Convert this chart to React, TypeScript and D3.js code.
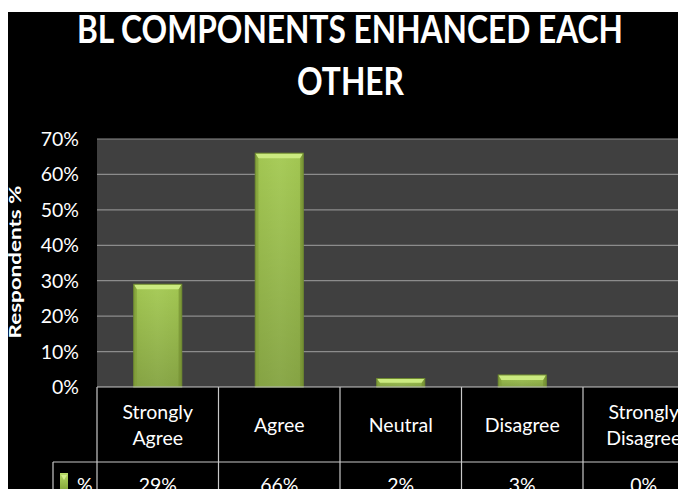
import React from "react";
import * as d3 from "d3";

const categories = ["Strongly Agree", "Agree", "Neutral", "Disagree", "Strongly Disagree"];
const categoryLines = [["Strongly", "Agree"], ["Agree"], ["Neutral"], ["Disagree"], ["Strongly", "Disagree"]];
const values = [0.29, 0.66, 0.024, 0.034, 0];
const yTicks = [0, 0.1, 0.2, 0.3, 0.4, 0.5, 0.6, 0.7];
const titleLines = ["BL COMPONENTS ENHANCED EACH", "OTHER"];
const yTitle = "Respondents %";
const seriesName = "%";

const W = 678;
const H = 489;
const FONT = "Lato, 'Open Sans', sans-serif";

export default function App() {
  const plotLeft = 97;
  const plotTop = 139;
  const plotBottom = 387;
  const colW = 121.5;
  const x = d3
    .scaleBand<string>()
    .domain(categories)
    .range([plotLeft, plotLeft + colW * categories.length])
    .paddingInner(0)
    .paddingOuter(0);
  const y = d3.scaleLinear().domain([0, 0.7]).range([plotBottom, plotTop]);
  const fmt = d3.format(".0%");
  const bw = 48;
  const rowSplit = 462;
  const tableRight = plotLeft + colW * categories.length;

  return (
    <svg width={W} height={H} style={{ position: "absolute", left: 0, top: 0 }} fontFamily={FONT}>
      <defs>
        <linearGradient id="barG" x1="0" y1="0" x2="1" y2="0">
          <stop offset="0" stopColor="#809e38" />
          <stop offset="0.08" stopColor="#a2c652" />
          <stop offset="0.5" stopColor="#a8cc5a" />
          <stop offset="0.92" stopColor="#a2c652" />
          <stop offset="1" stopColor="#809e38" />
        </linearGradient>
        <linearGradient id="barV" x1="0" y1="0" x2="0" y2="1">
          <stop offset="0" stopColor="#000" stopOpacity="0" />
          <stop offset="1" stopColor="#000" stopOpacity="0.18" />
        </linearGradient>
        <linearGradient id="keyG" x1="0" y1="0" x2="0" y2="1">
          <stop offset="0" stopColor="#b8dc68" />
          <stop offset="1" stopColor="#86a83c" />
        </linearGradient>
      </defs>
      <rect x={0} y={0} width={W} height={H} fill="#fff" />
      <rect x={8} y={12} width={W - 8} height={H - 12} fill="#000" />
      {/* title */}
      <text x={350} y={43} textAnchor="middle" fill="#fff" fontWeight="bold" fontSize={38} textLength={546} lengthAdjust="spacingAndGlyphs">
        {titleLines[0]}
      </text>
      <text x={350.5} y={95} textAnchor="middle" fill="#fff" fontWeight="bold" fontSize={38} textLength={107} lengthAdjust="spacingAndGlyphs">
        {titleLines[1]}
      </text>
      {/* plot area */}
      <rect x={plotLeft} y={plotTop} width={W - plotLeft} height={plotBottom - plotTop} fill="#404040" />
      {yTicks.map((t) => (
        <g key={t}>
          {t > 0 && (
            <line x1={plotLeft} x2={W} y1={y(t)} y2={y(t)} stroke="#8c8c8c" strokeWidth={1.2} />
          )}
          <text x={79} y={y(t) + 7} textAnchor="end" fill="#fff" fontSize={19.5}>
            {fmt(t)}
          </text>
        </g>
      ))}
      {/* y title */}
      <text
        transform={`translate(21,262) rotate(-90)`}
        textAnchor="middle"
        fill="#fff"
        fontWeight="bold"
        fontSize={17.5}
        textLength={153}
        lengthAdjust="spacingAndGlyphs"
      >
        {yTitle}
      </text>
      {/* bars */}
      {categories.map((c, i) => {
        const v = values[i];
        if (v <= 0) return null;
        const cx = (x(c) as number) + x.bandwidth() / 2;
        const x0 = cx - bw / 2;
        const top = y(v);
        const h = plotBottom - top;
        const bev = Math.min(5, h / 2);
        const side = 3;
        return (
          <g key={c}>
            <rect x={x0} y={top} width={bw} height={h} fill="url(#barG)" />
            <rect x={x0} y={top} width={bw} height={h} fill="url(#barV)" />
            <polygon
              points={`${x0},${top} ${x0 + bw},${top} ${x0 + bw - side},${top + bev} ${x0 + side},${top + bev}`}
              fill="#cbea80"
            />
            <polygon
              points={`${x0},${top} ${x0 + side},${top + bev} ${x0 + side},${plotBottom} ${x0},${plotBottom}`}
              fill="#86a43d"
              opacity={0.7}
            />
            <polygon
              points={`${x0 + bw},${top} ${x0 + bw - side},${top + bev} ${x0 + bw - side},${plotBottom} ${x0 + bw},${plotBottom}`}
              fill="#7a9636"
              opacity={0.7}
            />
            <rect x={x0} y={top} width={bw} height={h} fill="none" stroke="#6f8a30" strokeWidth={1} />
          </g>
        );
      })}
      {/* data table */}
      <line x1={plotLeft} x2={W} y1={plotBottom} y2={plotBottom} stroke="#c8c8c8" strokeWidth={1.2} />
      <line x1={53} x2={W} y1={rowSplit} y2={rowSplit} stroke="#c8c8c8" strokeWidth={1.2} />
      <line x1={53} x2={53} y1={rowSplit} y2={H} stroke="#c8c8c8" strokeWidth={1.2} />
      {categories.map((c) => (
        <line key={"v" + c} x1={x(c) as number} x2={x(c) as number} y1={plotBottom} y2={H} stroke="#c8c8c8" strokeWidth={1.2} />
      ))}
      <line x1={tableRight} x2={tableRight} y1={plotBottom} y2={H} stroke="#c8c8c8" strokeWidth={1.2} />
      {categories.map((c, i) => {
        const cx = (x(c) as number) + x.bandwidth() / 2;
        const lines = categoryLines[i];
        const mid = (plotBottom + rowSplit) / 2;
        const lh = 26;
        return (
          <g key={"t" + c}>
            {lines.map((l, j) => (
              <text
                key={j}
                x={cx}
                y={mid + (j - (lines.length - 1) / 2) * lh + 7}
                textAnchor="middle"
                fill="#fff"
                fontSize={19.5}
              >
                {l}
              </text>
            ))}
            <text x={cx} y={492} textAnchor="middle" fill="#fff" fontSize={19.5}>
              {fmt(values[i])}
            </text>
          </g>
        );
      })}
      {/* legend key */}
      <rect x={60} y={473} width={8} height={16} fill="url(#keyG)" />
      <polygon points="61,475 67,475 64,480" fill="#d2ee8a" />
      <text x={77} y={492} fill="#fff" fontSize={19.5}>
        {seriesName}
      </text>
    </svg>
  );
}
